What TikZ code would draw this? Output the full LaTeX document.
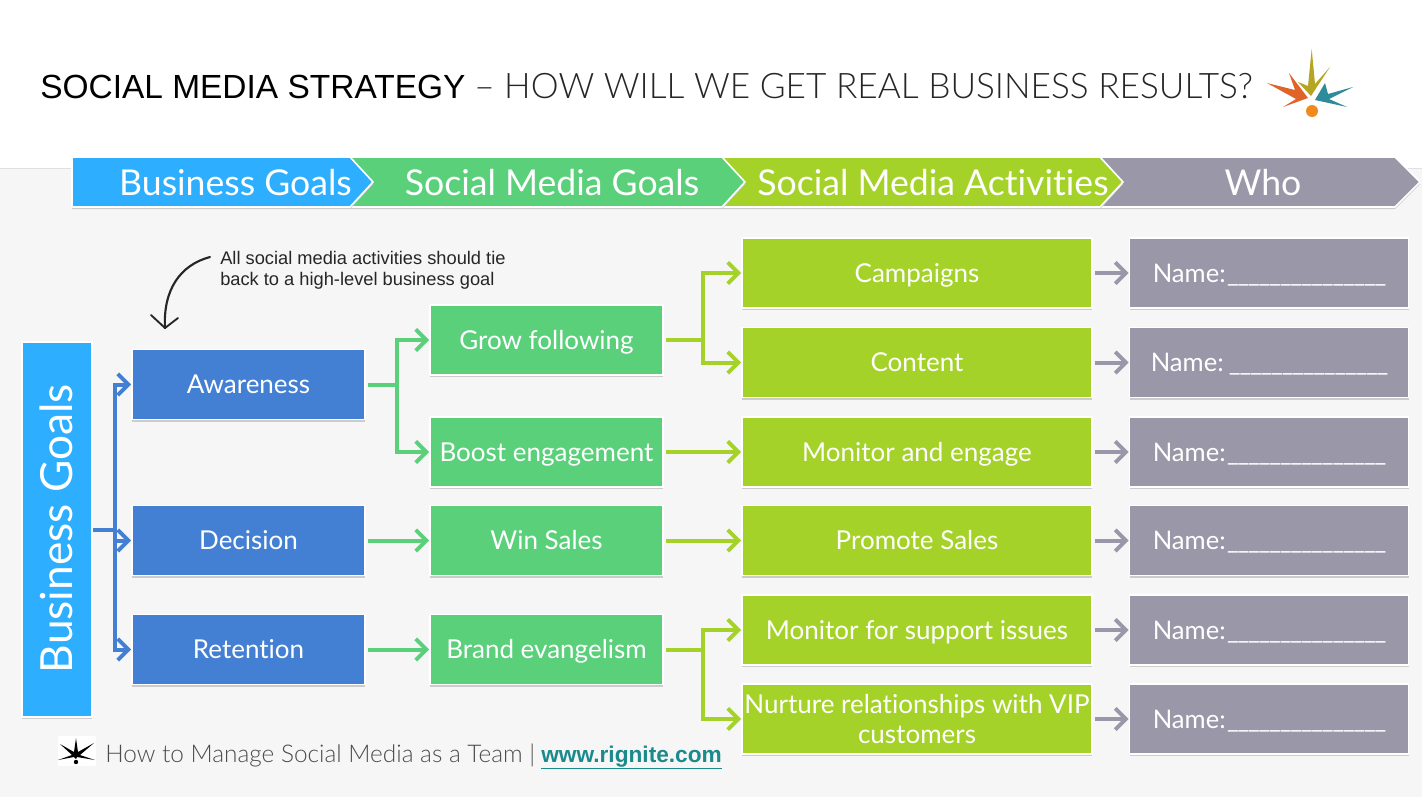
\documentclass[tikz,border=0pt]{standalone}
\usepackage{fontspec}
\setmainfont[Ligatures=NoCommon]{Lato}
\newfontfamily\titlef{Liberation Sans}
\newfontfamily\lightf{Lato Light}
\usetikzlibrary{arrows.meta,shadows}
\definecolor{cBlueBright}{HTML}{2DAEFF}
\definecolor{cBlue}{HTML}{4380D3}
\definecolor{cGreen}{HTML}{5AD07A}
\definecolor{cLime}{HTML}{A4D229}
\definecolor{cGray}{HTML}{9A97A8}
\definecolor{cBack}{HTML}{F6F6F7}
\definecolor{cTeal}{HTML}{1A8A8A}
\definecolor{cLogoA}{HTML}{B5A522}
\definecolor{cLogoB}{HTML}{E0642A}
\definecolor{cLogoC}{HTML}{2E8C9A}
\definecolor{cLogoD}{HTML}{F08A1D}
\newcommand{\fs}[1]{\fontsize{#1}{#1}\selectfont}
\newcommand{\usc}{\_\kern-0.9pt}
\newcommand{\uscline}{\usc\usc\usc\usc\usc\usc\usc\usc\usc\usc\usc\usc\usc\usc\usc}
\newcommand{\nameline}{\fs{19.2}Name:\kern1pt\uscline}
\tikzset{
  softshadow/.style={drop shadow={shadow xshift=0pt,shadow yshift=-1.6pt,fill=black!20,opacity=1}},
  box/.style={draw=white,line width=1.2pt,softshadow,inner sep=0pt,text=white,align=center,minimum height=52.5pt,font=\fs{19.5},text height=15pt,text depth=1pt},
  bluebox/.style={box,fill=cBlue,minimum width=174.75pt},
  greenbox/.style={box,fill=cGreen,minimum width=174.75pt},
  limebox/.style={box,fill=cLime,minimum width=262.5pt},
  graybox/.style={box,fill=cGray,minimum width=209.25pt},
  conn/.style={line width=3pt,-{Straight Barb[length=8pt,width=16pt,line width=3pt]}},
  stub/.style={line width=3pt},
  chev/.style={draw=white,line width=1.2pt,softshadow,line join=miter},
  chevtext/.style={text=white,inner sep=0pt,font=\fs{26.7},text height=20pt,text depth=1pt}
}
\begin{document}
\begin{tikzpicture}[x=0.75pt,y=-0.75pt]
\useasboundingbox (0,0) rectangle (1422,800);
\fill[white] (0,0) rectangle (1422,800);
\fill[cBack] (0,168) rectangle (1422,797);
\draw[black!12,line width=0.7pt] (0,168) -- (1422,168);
% title
\node[anchor=base west,inner sep=0pt,text=black] (title) at (40,98) {\titlef\fs{25.1}SOCIAL MEDIA STRATEGY};
\node[anchor=base west,inner sep=0pt,text=black!85] (subtitle) at (474,98) {\lightf\fs{26.4}– HOW WILL WE GET REAL BUSINESS RESULTS?};
% logo
\fill[cLogoA] (1311.7,49) -- (1315,84) -- (1330,67) -- (1311,96) -- (1298,82) -- (1308,86) -- cycle;
\fill[cLogoB] (1267,83) -- (1295,90) -- (1289,73) -- (1308,98) -- (1283,107) -- (1296,99) -- cycle;
\fill[cLogoC] (1353,87) -- (1328,94) -- (1325,83) -- (1315,100) -- (1347,107) -- (1329,99) -- cycle;
\fill[cLogoD] (1312,111) circle (6);
% chevrons
\filldraw[chev,fill=cGray] (1100,157) -- (1395,157) -- (1420,182) -- (1395,207) -- (1100,207) -- cycle;
\filldraw[chev,fill=cLime] (722,157) -- (1100,157) -- (1123,182) -- (1100,207) -- (722,207) -- cycle;
\filldraw[chev,fill=cGreen] (350,157) -- (722,157) -- (745,182) -- (722,207) -- (350,207) -- cycle;
\filldraw[chev,fill=cBlueBright] (72,157) -- (350,157) -- (373,182) -- (350,207) -- (72,207) -- cycle;
\node[chevtext] (h1) at (235.5,183) {Business Goals};
\node[chevtext] (h2) at (552,183) {Social Media Goals};
\node[chevtext] (h3) at (933,183) {Social Media Activities};
\node[chevtext] (h4) at (1263,183) {Who};
% left bar
\node[box,fill=cBlueBright,minimum width=52.5pt,minimum height=281.25pt,text height=,text depth=] (bg) at (57,529.5) {};
\node[text=white,inner sep=0pt,rotate=90,font=\fs{33.2},text height=24pt,text depth=1pt] (bgt) at (57,528.5) {Business Goals};
% business goals
\node[bluebox] (aw) at (248.5,384.5) {Awareness};
\node[bluebox] (de) at (248.5,540.5) {Decision};
\node[bluebox] (re) at (248.5,649.5) {Retention};
% social goals
\node[greenbox] (gf) at (546.5,340) {Grow following};
\node[greenbox] (be) at (546.5,452) {Boost engagement};
\node[greenbox] (ws) at (546.5,540.5) {Win Sales};
\node[greenbox] (ev) at (546.5,649.5) {Brand evangelism};
% activities
\node[limebox] (ca) at (917,273) {Campaigns};
\node[limebox] (co) at (917,362.5) {Content};
\node[limebox] (mo) at (917,452) {Monitor and engage};
\node[limebox] (pr) at (917,540.5) {Promote Sales};
\node[limebox] (su) at (917,630) {Monitor for support issues};
\node[limebox,text height=,text depth=] (nu) at (917,719) {Nurture relationships with VIP\\[3.5pt]customers};
% who
\node[graybox] (n1) at (1269,273) {\nameline};
\node[graybox] (n2) at (1269,362.5) {\fs{19.2}Name:\kern4pt\uscline};
\node[graybox] (n3) at (1269,452) {\nameline};
\node[graybox] (n4) at (1269,540.5) {\nameline};
\node[graybox] (n5) at (1269,630) {\nameline};
\node[graybox] (n6) at (1269,719) {\nameline};
% junctions
\coordinate (jb) at (115,529.5);
\coordinate (jg) at (397,384.5);
\coordinate (jl) at (703,340);
\coordinate (jv) at (703,649.5);
% blue connectors
\draw[stub,cBlue] (bg.east) -- (jb);
\draw[conn,cBlue] (jb) |- (aw.west);
\draw[conn,cBlue] (jb) |- (de.west);
\draw[conn,cBlue] (jb) |- (re.west);
% green connectors
\draw[stub,cGreen,shorten <=1.5pt] (aw.east) -- (jg);
\draw[conn,cGreen] (jg) |- (gf.west);
\draw[conn,cGreen] (jg) |- (be.west);
\draw[conn,cGreen,shorten <=1.5pt] (de.east) -- (ws.west);
\draw[conn,cGreen,shorten <=1.5pt] (re.east) -- (ev.west);
% lime connectors
\draw[stub,cLime,shorten <=1.5pt] (gf.east) -- (jl);
\draw[conn,cLime] (jl) |- (ca.west);
\draw[conn,cLime] (jl) |- (co.west);
\draw[conn,cLime,shorten <=1.5pt] (be.east) -- (mo.west);
\draw[conn,cLime,shorten <=1.5pt] (ws.east) -- (pr.west);
\draw[stub,cLime,shorten <=1.5pt] (ev.east) -- (jv);
\draw[conn,cLime] (jv) |- (su.west);
\draw[conn,cLime] (jv) |- (nu.west);
% gray connectors
\foreach \a/\b in {ca/n1,co/n2,mo/n3,pr/n4,su/n5,nu/n6}
  \draw[conn,cGray,shorten <=1.5pt] (\a.east) -- (\b.west);
% note
\node[anchor=west,align=left,inner sep=0pt,text=black!85,font={\titlef\fontsize{13.7}{15.8}\selectfont}] (note) at (220,270) {All social media activities should tie\\back to a high-level business goal};
\coordinate (curveend) at (165,328);
\draw[black!85,line width=1.6pt,line cap=round] (210,257) .. controls (180,265) and (163,290) .. (curveend);
\draw[black!85,line width=1.4pt,line cap=round] (151,315) -- (curveend) -- (178,318);
% footer
\fill[white] (58,736) rectangle (96,766);
\fill[black] (76,738) -- (78,752) -- (94,743) -- (80,755) -- (95,760) -- (77,757) -- (76,759) -- (74,757) -- (58,760) -- (72,755) -- (60,744) -- (74,752) -- cycle;
\fill[black] (76,762) circle (2.2);
\node[anchor=base west,inner sep=0pt,text=black!70] (foot) at (105,762) {\lightf\fs{18.3}How to Manage Social Media as a Team |};
\node[anchor=base west,inner sep=0pt,text=cTeal] (url) at (541,762) {\titlef\bfseries\fs{17}\underline{www.rignite.com}};
\end{tikzpicture}
\end{document}
